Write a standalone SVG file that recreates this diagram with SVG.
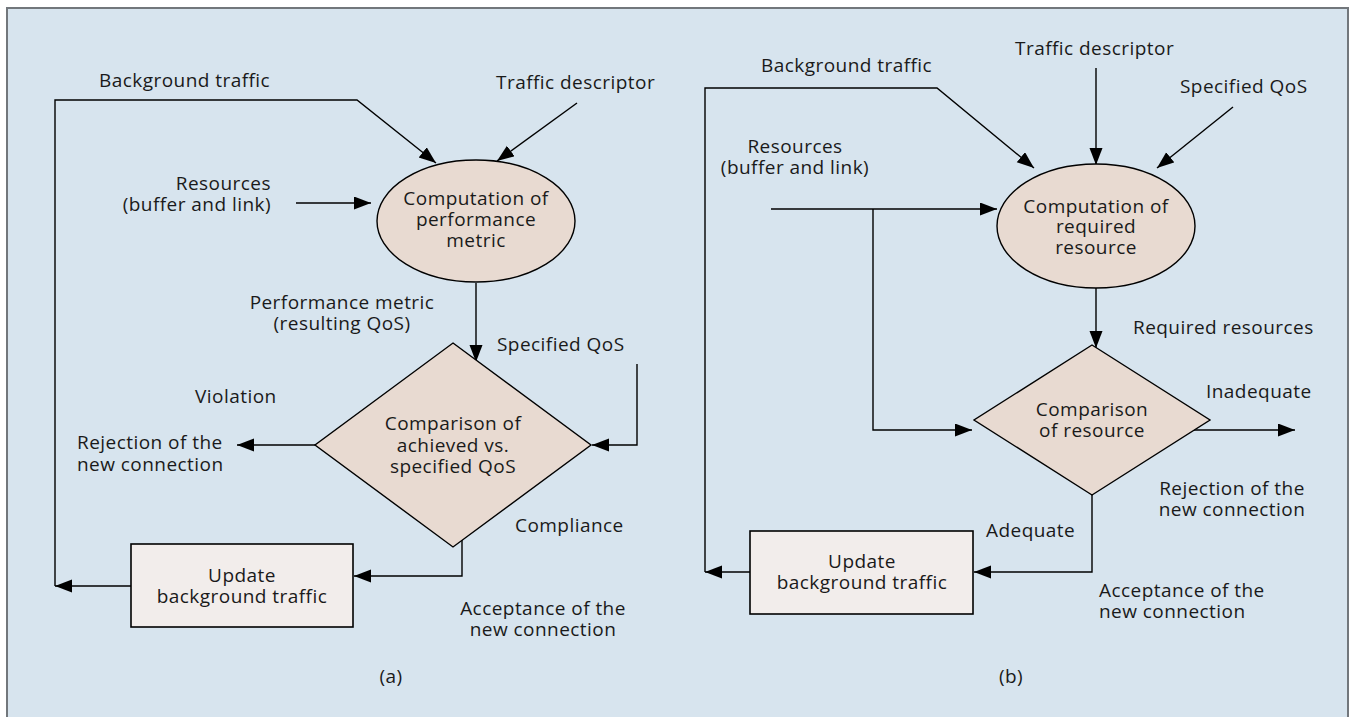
<svg xmlns="http://www.w3.org/2000/svg" width="1351" height="717" viewBox="0 0 1351 717">
<defs>
<style>
text{font-family:"Open Sans","Noto Sans","Liberation Sans",sans-serif;font-size:19px;letter-spacing:0.45px;fill:#1a1a1a}
.m{text-anchor:middle}
.e{text-anchor:end}
.c{fill:none;stroke:#000;stroke-width:1.4}
.shape{fill:#e8dad1;stroke:#000;stroke-width:1.4}
.box{fill:#f2edeb;stroke:#000;stroke-width:1.6}
</style>
<marker id="ah" markerUnits="userSpaceOnUse" markerWidth="18" markerHeight="14" refX="17" refY="6.5" orient="auto">
<path d="M0,0 L17,6.5 L0,13 z" fill="#000"/>
</marker>
</defs>
<rect x="0" y="0" width="1351" height="717" fill="#ffffff"/>
<rect x="7" y="8" width="1341" height="720" fill="#d7e4ee" stroke="#72777c" stroke-width="2"/>

<g id="connectors">
<path class="c" d="M55,586 V100 H357 L436,163" marker-end="url(#ah)"/>
<path class="c" d="M577,103 L497,161" marker-end="url(#ah)"/>
<path class="c" d="M296,203 H371" marker-end="url(#ah)"/>
<path class="c" d="M476,283 V362" marker-end="url(#ah)"/>
<path class="c" d="M637,364 V445 H592" marker-end="url(#ah)"/>
<path class="c" d="M315,445 H237" marker-end="url(#ah)"/>
<path class="c" d="M462,540 V576 H354" marker-end="url(#ah)"/>
<path class="c" d="M131,586 H55" marker-end="url(#ah)"/>

<path class="c" d="M705,572 V88 H937 L1034,168" marker-end="url(#ah)"/>
<path class="c" d="M1096,68 V165" marker-end="url(#ah)"/>
<path class="c" d="M1233,107 L1157,168" marker-end="url(#ah)"/>
<path class="c" d="M771,209 H997" marker-end="url(#ah)"/>
<path class="c" d="M873,209 V430 H972" marker-end="url(#ah)"/>
<path class="c" d="M1096,288 V348" marker-end="url(#ah)"/>
<path class="c" d="M1193,430 H1295" marker-end="url(#ah)"/>
<path class="c" d="M1092,495 V572 H974" marker-end="url(#ah)"/>
<path class="c" d="M750,572 H705" marker-end="url(#ah)"/>
</g>

<g id="a-compute">
<ellipse class="shape" cx="476" cy="221" rx="99" ry="61"/>
<text class="m" x="476" y="205">Computation of<tspan x="476" dy="21">performance</tspan><tspan x="476" dy="21">metric</tspan></text>
</g>
<g id="a-compare">
<polygon class="shape" points="453,343 591,445 453,547 315,445"/>
<text class="m" x="453" y="430">Comparison of<tspan x="453" dy="22">achieved vs.</tspan><tspan x="453" dy="21">specified QoS</tspan></text>
</g>
<g id="a-update">
<rect class="box" x="131" y="544" width="222" height="83"/>
<text class="m" x="242" y="582">Update<tspan x="242" dy="21">background traffic</tspan></text>
</g>
<g id="a-labels">
<text x="99" y="87">Background traffic</text>
<text x="496" y="89">Traffic descriptor</text>
<text class="e" x="271" y="190">Resources<tspan x="271" dy="21">(buffer and link)</tspan></text>
<text class="m" x="342" y="309">Performance metric<tspan x="342" dy="21">(resulting QoS)</tspan></text>
<text x="497" y="351">Specified QoS</text>
<text x="195" y="403">Violation</text>
<text x="77" y="449">Rejection of the<tspan x="77" dy="22">new connection</tspan></text>
<text x="515" y="532">Compliance</text>
<text class="m" x="543" y="615">Acceptance of the<tspan x="543" dy="21">new connection</tspan></text>
<text class="m" x="391" y="683">(a)</text>
</g>

<g id="b-compute">
<ellipse class="shape" cx="1096" cy="226" rx="99" ry="62"/>
<text class="m" x="1096" y="213">Computation of<tspan x="1096" dy="20">required</tspan><tspan x="1096" dy="21">resource</tspan></text>
</g>
<g id="b-compare">
<polygon class="shape" points="1092,345 1210,420 1092,495 974,420"/>
<text class="m" x="1092" y="416">Comparison<tspan x="1092" dy="21">of resource</tspan></text>
</g>
<g id="b-update">
<rect class="box" x="750" y="531" width="223" height="83"/>
<text class="m" x="862" y="568">Update<tspan x="862" dy="21">background traffic</tspan></text>
</g>
<g id="b-labels">
<text x="761" y="72">Background traffic</text>
<text x="1015" y="55">Traffic descriptor</text>
<text x="1180" y="93">Specified QoS</text>
<text class="m" x="795" y="153">Resources<tspan x="795" dy="21">(buffer and link)</tspan></text>
<text x="1133" y="334">Required resources</text>
<text x="1206" y="398">Inadequate</text>
<text class="m" x="1232" y="495">Rejection of the<tspan x="1232" dy="21">new connection</tspan></text>
<text x="986" y="537">Adequate</text>
<text x="1099" y="597">Acceptance of the<tspan x="1099" dy="21">new connection</tspan></text>
<text class="m" x="1011" y="683">(b)</text>
</g>
</svg>
